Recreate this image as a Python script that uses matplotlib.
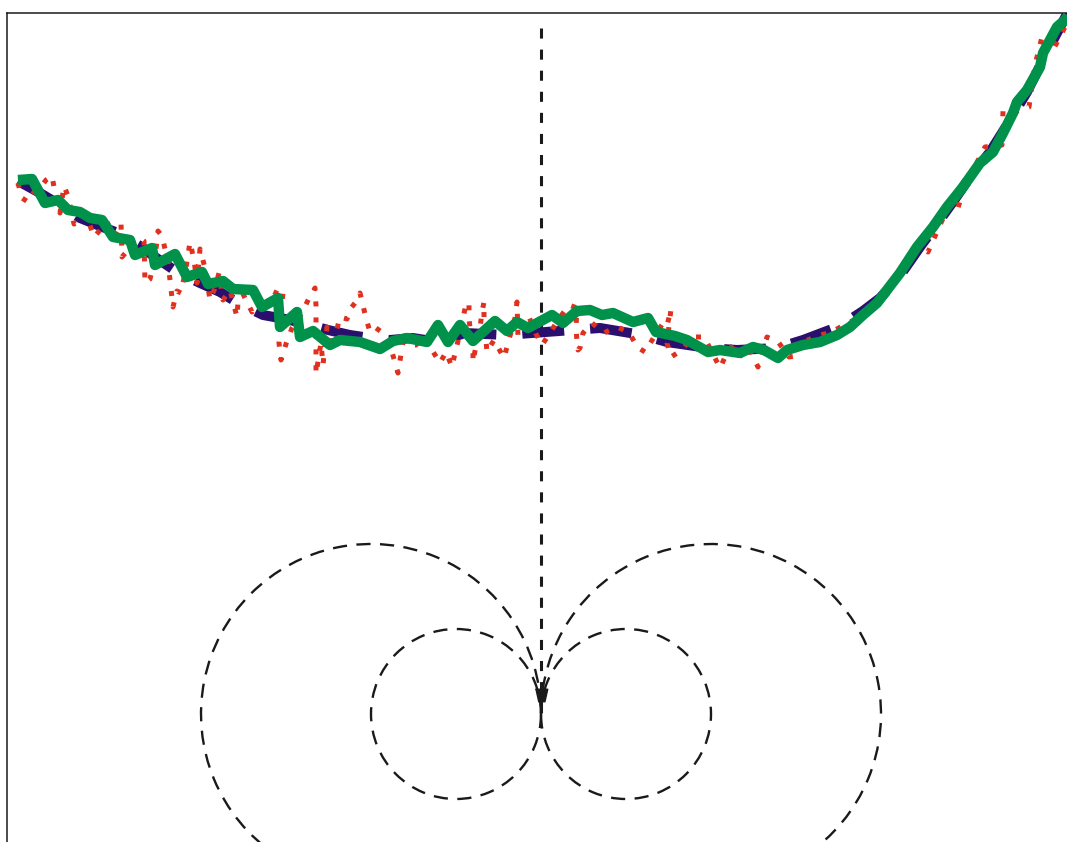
import matplotlib
matplotlib.use("Agg")
import matplotlib.pyplot as plt
from matplotlib.patches import Arc

# ---- data (chart units; y axis runs downward) ----
green_x = [18, 32, 45, 58, 68, 80, 90, 102, 113, 130, 135, 152, 155, 175, 187, 202, 208, 223, 233,
           253, 262, 278, 280, 297, 300, 313, 330, 340, 360, 380, 393, 407, 427, 438, 448, 460, 473,
           495, 507, 517, 528, 552, 563, 577, 590, 602, 613, 633, 648, 656, 675, 687, 708, 720, 740,
           753, 764, 778, 787, 803, 820, 837, 850, 863, 877, 887, 900, 917, 933, 947, 963, 980, 993,
           1003, 1013, 1017, 1027, 1040, 1043, 1050, 1057, 1065, 1072]
green_y = [180, 179, 203, 200, 210, 212, 218, 220, 237, 240, 255, 248, 265, 254, 277, 272, 284, 281, 289,
           290, 307, 298, 327, 312, 337, 331, 345, 340, 342, 349, 341, 338, 342, 325, 342, 325, 341,
           321, 331, 322, 328, 315, 323, 311, 310, 315, 313, 322, 318, 332, 336, 340, 352, 350, 353,
           347, 350, 358, 350, 345, 342, 335, 327, 315, 303, 290, 273, 247, 227, 207, 187, 163, 152,
           133, 113, 102, 90, 67, 53, 40, 27, 20, 10]

navy_x = [18, 40, 60, 80, 100, 118, 140, 155, 177, 200, 220, 238, 263, 285, 303, 328, 350, 370, 390,
          413, 438, 465, 505, 532, 573, 600, 642, 667, 708, 737, 777, 803, 840, 863, 880, 897, 920,
          937, 955, 970, 990, 1007, 1027, 1047, 1067, 1075]
navy_y = [181, 193, 205, 218, 226, 233, 246, 257, 272, 283, 292, 303, 315, 319, 323, 330, 335, 338, 340,
          338, 342, 333, 335, 333, 330, 328, 335, 342, 348, 350, 348, 340, 326, 311, 298, 280, 247,
          224, 199, 177, 152, 125, 92, 52, 14, 3]

red_x = [18, 22, 28, 34, 40, 46, 52, 56, 60, 64, 68, 74, 80, 86, 94, 100, 107, 114, 121, 122, 128,
         134, 140, 144, 145, 150, 155, 158, 162, 168, 173, 177, 181, 186, 190, 194, 197, 200, 205,
         210, 215, 219, 223, 230, 237, 239, 246, 252, 258, 264, 270, 278, 283, 279, 281, 286, 292,
         302, 309, 315, 316, 316, 321, 323, 327, 332, 340, 347, 351, 355, 360, 366, 370, 376, 383,
         390, 398, 402, 405, 410, 416, 424, 432, 440, 446, 452, 455, 459, 463, 466, 469, 469, 473,
         473, 477, 480, 482, 484, 484, 487, 494, 504, 508, 515, 517, 518, 524, 529, 536, 542, 550,
         558, 569, 577, 576, 577, 578, 580, 583, 592, 598, 604, 610, 617, 629, 637, 645, 654, 663,
         667, 671, 667, 671, 682, 692, 704, 712, 720, 726, 733, 744, 750, 758, 767, 779, 789, 796,
         799, 808, 817, 832, 847, 863, 875, 887, 897, 907, 913, 920, 928, 940, 953, 957, 965, 973,
         985, 1002, 1003, 1015, 1029, 1035, 1042, 1052, 1065, 1070]
red_y = [183, 198, 202, 192, 188, 180, 176, 198, 213, 186, 196, 224, 222, 214, 237, 230, 222, 236, 223, 257, 250,
         240, 238, 241, 283, 279, 258, 231, 236, 262, 307, 291, 293, 268, 242, 260, 283, 249, 268,
         300, 288, 273, 300, 290, 317, 286, 300, 312, 296, 302, 305, 288, 292, 343, 360, 344, 328,
         313, 298, 288, 306, 374, 343, 365, 327, 349, 317, 319, 308, 303, 293, 318, 332, 328, 333,
         345, 373, 348, 332, 345, 345, 336, 350, 363, 352, 367, 353, 337, 319, 303, 303, 319, 354,
         362, 340, 328, 312, 302, 319, 352, 340, 358, 343, 318, 302, 337, 330, 317, 334, 345, 333,
         320, 305, 308, 327, 342, 350, 348, 333, 323, 328, 333, 330, 327, 332, 347, 352, 337, 323,
         326, 309, 343, 357, 350, 337, 337, 352, 368, 355, 345, 358, 350, 367, 337, 343, 357, 356,
         340, 340, 336, 332, 323, 317, 305, 293, 280, 267, 253, 248, 252, 225, 197, 211, 185, 170,
         147, 145, 111, 112, 107, 65, 37, 52, 27, 20]

# guide geometry (field-line circles and axis)
axis_x = 541
axis_top, axis_bottom = 28, 722
marker_y = 695
circle_cx = [371, 456, 626, 711]
circle_r = [170, 85, 85, 170]
circle_cy = 714
circle_theta = [(90, 360), (0, 360), (180, 540), (180, 450)]

fig = plt.figure(figsize=(10.67, 8.42), dpi=100)
ax = fig.add_axes([7 / 1067, 0, 1060 / 1067, 829 / 842])
ax.set_xlim(7, 1067)
ax.set_ylim(842, 13)
ax.set_xticks([])
ax.set_yticks([])
for s in ("right", "bottom"):
    ax.spines[s].set_visible(False)
for s in ("left", "top"):
    ax.spines[s].set_linewidth(1.1)
    ax.spines[s].set_color("#1a1a1a")

# circles (field lines)
for cx, r, (t1, t2) in zip(circle_cx, circle_r, circle_theta):
    arc = Arc((cx, circle_cy), 2 * r, 2 * r, angle=t1, theta1=0, theta2=t2 - t1,
              color="#1a1a1a", lw=1.7, linestyle=(0, (6, 4)), zorder=1)
    ax.add_patch(arc)

# vertical axis line
ax.plot([axis_x, axis_x], [axis_top, axis_bottom], color="#1a1a1a", lw=2.2,
        linestyle=(0, (3.3, 3.6)), dash_capstyle="butt", zorder=1)
ax.plot([axis_x], [marker_y], marker=[(-1, 1), (1, 1), (0.55, -1), (-0.55, -1)],
        markersize=9, color="#1a1a1a", zorder=1)

# series
ax.plot(navy_x, navy_y, color="#2b0f6e", lw=7.2, linestyle=(0, (4.2, 2.6)),
        dash_capstyle="butt", solid_joinstyle="miter", zorder=2)
ax.plot(red_x, red_y, color="#e0301e", lw=3.6, linestyle=(0, (1, 2.2)),
        dash_capstyle="butt", zorder=3)
ax.plot(green_x, green_y, color="#00924a", lw=7.5, solid_joinstyle="round",
        solid_capstyle="butt", zorder=4)

fig.savefig("out.png", dpi=100)
